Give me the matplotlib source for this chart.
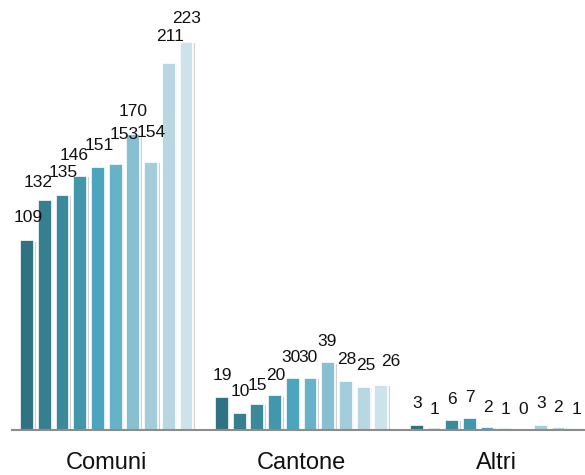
import matplotlib
matplotlib.use("Agg")
import matplotlib.pyplot as plt
import matplotlib.patheffects as pe
import numpy as np

categories = ["Comuni", "Cantone", "Altri"]
comuni = [109, 132, 135, 146, 151, 153, 170, 154, 211, 223]
cantone = [19, 10, 15, 20, 30, 30, 39, 28, 25, 26]
altri = [3, 1, 6, 7, 2, 1, 0, 3, 2, 1]
series_by_group = [comuni, cantone, altri]

colors = ["#2F7282", "#357F8F", "#3B8A9C", "#4297AC", "#4BA5BF",
          "#66B2C8", "#88C0D1", "#A3CDDB", "#B8D7E3", "#CDE3EC"]

# label nudges (pixels, dx right, dy up) mimicking the reference's label placement
label_nudges = [
    [(1, 2), (-6.5, -3), (1, 2), (-6.5, -1), (1, 1), (9, 8), (0, 2), (0, 9), (1, 5), (0, 2)],
    [(0, 0), (1, 0), (0, -3), (1, -1.5), (-2, -0.5), (-2, -0.5), (-1, 0), (1, 1), (2, 0), (9, 2)],
    [(0, 0), (0, -2), (0, -1), (0, -1), (0, -2), (0, -2), (0, -1), (0, 0), (0, -2), (0, -2)],
]

plt.rcParams['font.family'] = ['Liberation Sans', 'DejaVu Sans']

DPI = 100
fig = plt.figure(figsize=(5.85, 4.75), dpi=DPI)
ax = fig.add_axes([12 / 585, 45 / 475, 1 - 12 / 585, 430 / 475])

px = 72 / DPI
n = len(comuni)
step = n + 1
for gi, vals in enumerate(series_by_group):
    for j, v in enumerate(vals):
        x = gi * step + j
        ax.bar(x, v, width=0.78, color=colors[j], edgecolor="white", linewidth=1.2,
               path_effects=[pe.SimplePatchShadow(offset=(1.2, -1.0), shadow_rgbFace="#9a9a9a", alpha=0.45),
                             pe.Normal()], zorder=2)
        dx, dy = label_nudges[gi][j]
        ax.annotate(str(v), (x, v), xytext=(dx * px, (21 + dy) * px), textcoords="offset points",
                    ha="center", va="center", fontsize=12.5, color="#111111")

ax.set_xlim(-0.85, 31.5)
ax.set_ylim(0, 430 / 1.74)
for s in ["top", "right", "left"]:
    ax.spines[s].set_visible(False)
ax.spines["bottom"].set_color("#8c8c8c")
ax.spines["bottom"].set_linewidth(1.5)
ax.set_yticks([])
ax.set_xticks([gi * step + (n - 1) / 2 for gi in range(len(categories))])
ax.set_xticklabels(categories, fontsize=17, color="#111111")
ax.tick_params(axis="x", length=0, pad=16)

fig.savefig("out.png", dpi=DPI)
